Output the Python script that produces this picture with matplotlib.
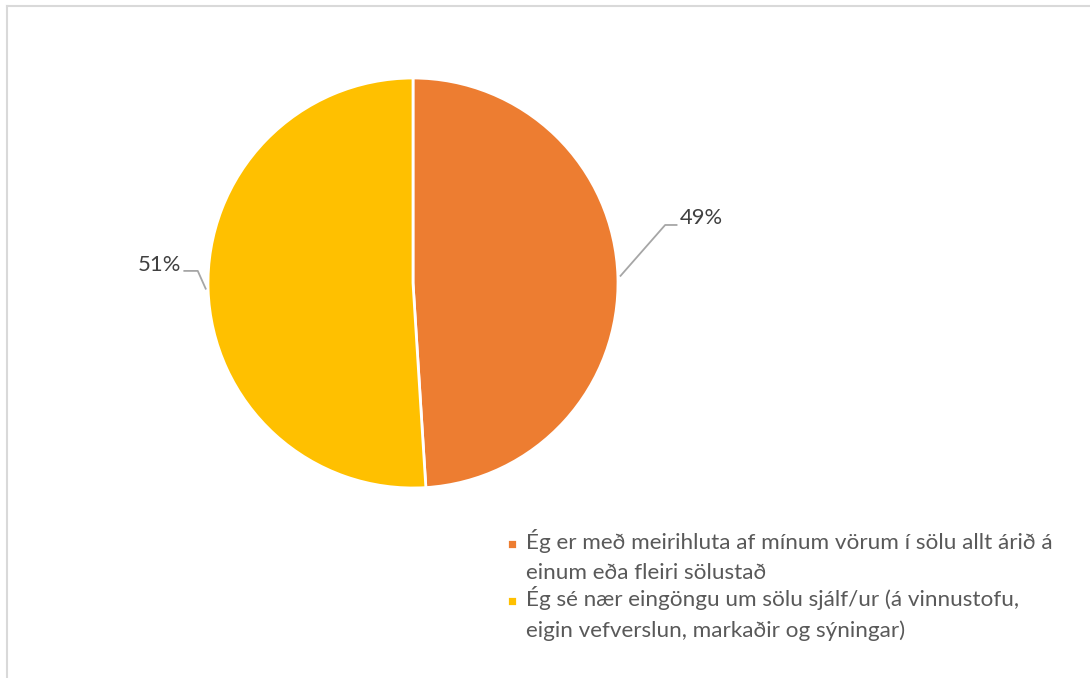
import numpy as np
import matplotlib
matplotlib.use("Agg")
import matplotlib.pyplot as plt
from matplotlib.lines import Line2D
from matplotlib.patches import Rectangle
from matplotlib.legend_handler import HandlerPatch

plt.rcParams['font.family'] = ['Lato', 'DejaVu Sans']

categories = ["Ég er með meirihluta af mínum vörum í sölu allt árið á\neinum eða fleiri sölustað",
              "Ég sé nær eingöngu um sölu sjálf/ur (á vinnustofu,\neigin vefverslun, markaðir og sýningar)"]
values = [49, 51]
pct_labels = ["49%", "51%"]
colors = ["#ED7D31", "#FFC000"]
text_color = "#595959"
label_color = "#404040"

W, H = 1090, 678
fig = plt.figure(figsize=(W / 100, H / 100), dpi=100)

# frame (top and left borders)
fig.add_artist(Line2D([7 / W, 7 / W], [0, 1 - 6 / H], color="#D9D9D9", lw=1.5, transform=fig.transFigure))
fig.add_artist(Line2D([7 / W, 1], [1 - 6 / H, 1 - 6 / H], color="#D9D9D9", lw=1.5, transform=fig.transFigure))

cx, cy, r = 413, 283, 205
ax = fig.add_axes([(cx - r) / W, 1 - (cy + r) / H, 2 * r / W, 2 * r / H])
wedges, _ = ax.pie(values, colors=colors, startangle=90, counterclock=False,
                   wedgeprops=dict(edgecolor="white", linewidth=2))
ax.set_xlim(-1, 1)
ax.set_ylim(-1, 1)
ax.set_aspect("equal")
ax.axis("off")

# leader lines and labels
elbows = [((1.23, 0.283), (1.29, 0.283), (1.30, 0.318), "left"),
          ((-1.05, 0.059), (-1.12, 0.059), (-1.13, 0.09), "right")]
for w, lab, (elb, end, tpos, ha) in zip(wedges, pct_labels, elbows):
    ang = np.deg2rad((w.theta1 + w.theta2) / 2)
    sx, sy = np.cos(ang) * 1.01, np.sin(ang) * 1.01
    ax.plot([sx, elb[0], end[0]], [sy, elb[1], end[1]], color="#A6A6A6", lw=1.3,
            clip_on=False, solid_capstyle="butt")
    ax.text(tpos[0], tpos[1], lab, ha=ha, va="center", fontsize=15.8, color=label_color,
            clip_on=False)


def top_square(legend, orig_handle, xdescent, ydescent, width, height, fontsize):
    s = width
    shift = 8.5  # points: align marker with the first text line
    return Rectangle((-xdescent, -ydescent + height / 2 - s / 2 + shift), s, s)


leg = fig.legend(wedges, categories, loc="upper left", bbox_to_anchor=(507 / W, 1 - 529 / H),
                 frameon=False, fontsize=16.2, labelcolor=text_color, handlelength=0.45,
                 handleheight=0.45, handletextpad=0.4, labelspacing=0.15, borderaxespad=0,
                 borderpad=0,
                 handler_map={matplotlib.patches.Wedge: HandlerPatch(patch_func=top_square)})
for t in leg.get_texts():
    t.set_linespacing(1.6)

fig.savefig("out.png", dpi=100, facecolor="white")
